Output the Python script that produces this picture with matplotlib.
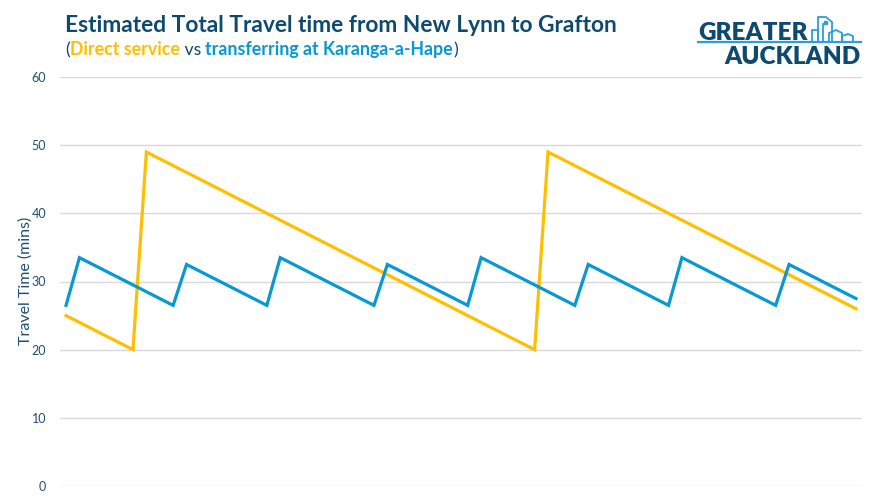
import matplotlib.pyplot as plt
from matplotlib.patches import Rectangle
from matplotlib.lines import Line2D

plt.rcParams['font.family'] = ['Lato', 'DejaVu Sans']

# minutes after the hour (one point per minute)
minutes = list(range(60))

# Direct service travel time (mins)
direct = [25, 24, 23, 22, 21, 20,
          49, 48, 47, 46, 45, 44, 43, 42, 41, 40, 39, 38, 37, 36, 35,
          34, 33, 32, 31, 30, 29, 28, 27, 26, 25, 24, 23, 22, 21, 20,
          49, 48, 47, 46, 45, 44, 43, 42, 41, 40, 39, 38, 37, 36, 35,
          34, 33, 32, 31, 30, 29, 28, 27, 26]

# transferring at Karanga-a-Hape travel time (mins)
transfer = [26.5,
            33.5, 32.5, 31.5, 30.5, 29.5, 28.5, 27.5, 26.5,
            32.5, 31.5, 30.5, 29.5, 28.5, 27.5, 26.5,
            33.5, 32.5, 31.5, 30.5, 29.5, 28.5, 27.5, 26.5,
            32.5, 31.5, 30.5, 29.5, 28.5, 27.5, 26.5,
            33.5, 32.5, 31.5, 30.5, 29.5, 28.5, 27.5, 26.5,
            32.5, 31.5, 30.5, 29.5, 28.5, 27.5, 26.5,
            33.5, 32.5, 31.5, 30.5, 29.5, 28.5, 27.5, 26.5,
            32.5, 31.5, 30.5, 29.5, 28.5, 27.5]

y_ticks = [0, 10, 20, 30, 40, 50, 60]

ORANGE = '#FFBF00'
BLUE = '#0898D4'
NAVY = '#0D4A6E'
LIGHTBLUE = '#2A9FDB'

W, H = 877, 501
fig = plt.figure(figsize=(W / 100, H / 100), dpi=100)
ax = fig.add_axes([60 / W, (H - 486) / H, 802 / W, (486 - 77) / H])

ax.plot(minutes, direct, color=ORANGE, lw=2.3, solid_joinstyle='miter', zorder=3)
ax.plot(minutes, transfer, color=BLUE, lw=2.3, solid_joinstyle='miter', zorder=3)

ax.set_xlim(-0.45, 59.45)
ax.set_ylim(0, 60)
ax.set_yticks(y_ticks)
ax.set_xticks([])
ax.grid(axis='y', color='#d9d9d9', lw=1)
ax.set_axisbelow(True)
for s in ax.spines.values():
    s.set_visible(False)
ax.tick_params(axis='y', length=0, pad=10, labelsize=9, labelcolor='#1F4F73')

fig.text(26 / W, 1 - 281 / H, 'Travel Time (mins)', rotation=90, fontsize=11.5,
         color='#1F4F73', ha='center', va='center')

# title and coloured subtitle
fig.text(65 / W, 1 - 32 / H, 'Estimated Total Travel time from New Lynn to Grafton',
         fontsize=16.4, fontweight='bold', color=NAVY, va='baseline')

parts = [('(', NAVY, 'normal'), ('Direct service', ORANGE, 'bold'), (' vs ', NAVY, 'normal'),
         ('transferring at Karanga-a-Hape', BLUE, 'bold'), (')', NAVY, 'normal')]
fig.canvas.draw()
r = fig.canvas.get_renderer()
x = 65 / W
for txt, col, wt in parts:
    t = fig.text(x, 1 - 55 / H, txt, fontsize=12.8, fontweight=wt, color=col, va='baseline')
    bb = t.get_window_extent(renderer=r)
    x += bb.width / W

# logo
fig.text(698 / W, 1 - 40 / H, 'GREATER', fontsize=17.5, fontweight='heavy', color=NAVY,
         va='baseline')
fig.text(861 / W, 1 - 64 / H, 'AUCKLAND', fontsize=17.5, fontweight='heavy', color=NAVY,
         va='baseline', ha='right')
fig.add_artist(Line2D([698 / W, 861 / W], [1 - 42 / H, 1 - 42 / H], color=LIGHTBLUE, lw=1.6))


def fx(v):
    return v / W


def fy(v):
    return 1 - v / H


# buildings in the logo
fig.add_artist(Line2D([fx(812), fx(812), fx(818), fx(818)], [fy(41), fy(30), fy(30), fy(41)],
                      color=LIGHTBLUE, lw=1.3))
fig.add_artist(Line2D([fx(818), fx(818), fx(826), fx(832), fx(832)],
                      [fy(41), fy(17), fy(17), fy(22), fy(41)], color=LIGHTBLUE, lw=1.3))
fig.add_artist(Line2D([fx(823), fx(823)], [fy(41), fy(24)], color=LIGHTBLUE, lw=1.3))
fig.add_artist(Line2D([fx(829), fx(829), fx(836), fx(842), fx(842)],
                      [fy(41), fy(33), fy(30), fy(33), fy(41)], color=LIGHTBLUE, lw=1.3))
fig.add_artist(Line2D([fx(842), fx(842), fx(848), fx(853), fx(853)],
                      [fy(41), fy(36), fy(34), fy(36), fy(41)], color=LIGHTBLUE, lw=1.3))
fig.add_artist(Rectangle((fx(824), fy(24)), 3 / W, 3 / H, color=LIGHTBLUE))

fig.savefig('out.png', dpi=100)
